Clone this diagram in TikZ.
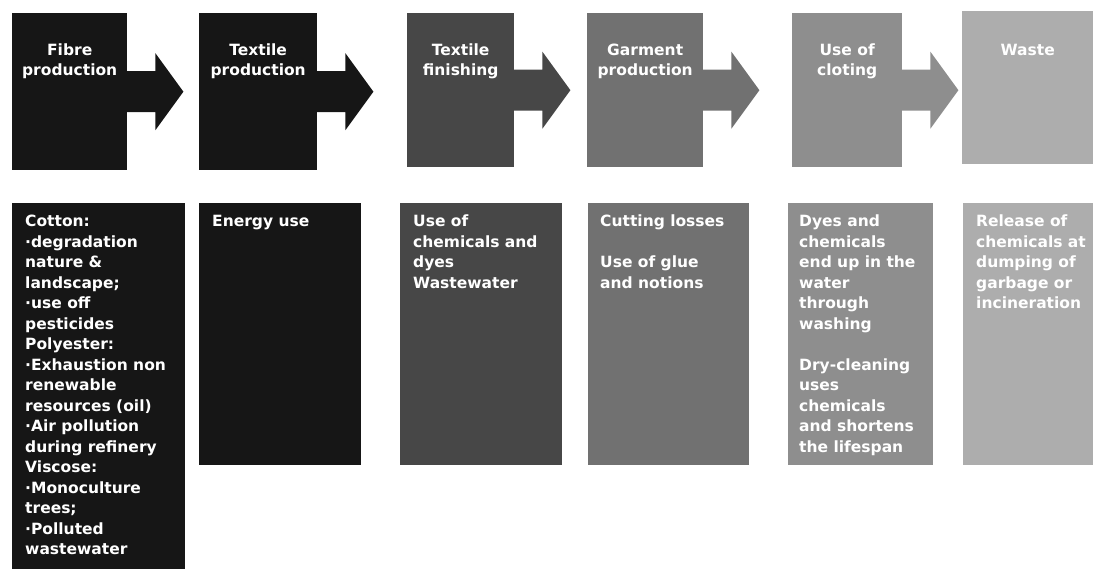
\documentclass[tikz,border=0pt]{standalone}
\usepackage{fontspec}
\setmainfont{DejaVu Sans}
\usetikzlibrary{positioning}
\definecolor{stageA}{HTML}{161616}
\definecolor{stageB}{HTML}{474747}
\definecolor{stageC}{HTML}{717171}
\definecolor{stageD}{HTML}{8E8E8E}
\definecolor{stageE}{HTML}{ADADAD}

\begin{document}
\begin{tikzpicture}[x=1pt,y=-1pt,
  stage/.style={fill=#1,inner sep=0pt,anchor=north west},
  steplbl/.style={text=white,font=\bfseries\fontsize{15.5}{20}\selectfont,align=center,inner sep=0pt},
  implbl/.style={text=white,font=\bfseries\fontsize{15.5}{20.5}\selectfont,align=left,inner sep=0pt}]
  \useasboundingbox (0,0) rectangle (1093,569);

  % life cycle stages
  \node[stage=stageA,minimum width=115pt,minimum height=157pt] (fibre) at (12,13) {};
  \node[stage=stageA,minimum width=118pt,minimum height=157pt] (textile) at (199,13) {};
  \node[stage=stageB,minimum width=107pt,minimum height=154pt] (finish) at (407,13) {};
  \node[stage=stageC,minimum width=116pt,minimum height=154pt] (garment) at (587,13) {};
  \node[stage=stageD,minimum width=110pt,minimum height=154pt] (usage) at (792,13) {};
  \node[stage=stageE,minimum width=131pt,minimum height=153pt] (waste) at (962,11) {};

  % block arrows
  \foreach \s/\c in {fibre/stageA,textile/stageA,finish/stageB,garment/stageC,usage/stageD}
    \fill[\c] ([xshift=-1pt,yshift=20.5pt]\s.east) -- ++(29,0) -- ++(0,-18) -- ++(28,38.5)
      -- ++(-28,38.5) -- ++(0,-18) -- ([xshift=-1pt,yshift=-20.5pt]\s.east) -- cycle;

  \node[steplbl,below=31pt of fibre.north] {Fibre\\production};
  \node[steplbl,below=31pt of textile.north] {Textile\\production};
  \node[steplbl,below=31pt of finish.north] {Textile\\finishing};
  \node[steplbl,below=31pt of garment.north] {Garment\\production};
  \node[steplbl,below=31pt of usage.north] {Use of\\cloting};
  \node[steplbl,below=33pt of waste.north] {Waste};

  % impacts
  \node[stage=stageA,minimum width=173pt,minimum height=366pt] (fibre-imp) at (12,203) {};
  \node[stage=stageA,minimum width=162pt,minimum height=262pt] (textile-imp) at (199,203) {};
  \node[stage=stageB,minimum width=162pt,minimum height=262pt] (finish-imp) at (400,203) {};
  \node[stage=stageC,minimum width=161pt,minimum height=262pt] (garment-imp) at (588,203) {};
  \node[stage=stageD,minimum width=145pt,minimum height=262pt] (usage-imp) at (788,203) {};
  \node[stage=stageE,minimum width=130pt,minimum height=262pt] (waste-imp) at (963,203) {};

  \node[implbl,below right=12pt and 13pt of fibre-imp.north west]
    {Cotton:\\·degradation\\nature \&\\landscape;\\·use off\\pesticides\\Polyester:\\·Exhaustion non\\renewable\\resources (oil)\\·Air pollution\\during refinery\\Viscose:\\·Monoculture\\trees;\\·Polluted\\wastewater};
  \node[implbl,below right=12pt and 13pt of textile-imp.north west] {Energy use};
  \node[implbl,below right=12pt and 13pt of finish-imp.north west]
    {Use of\\chemicals and\\dyes\\Wastewater};
  \node[implbl,below right=12pt and 12pt of garment-imp.north west]
    {Cutting losses\\[20.5pt]Use of glue\\and notions};
  \node[implbl,below right=12pt and 11pt of usage-imp.north west]
    {Dyes and\\chemicals\\end up in the\\water\\through\\washing\\[20.5pt]Dry-cleaning\\uses\\chemicals\\and shortens\\the lifespan};
  \node[implbl,below right=12pt and 13pt of waste-imp.north west]
    {Release of\\chemicals at\\dumping of\\garbage or\\incineration};
\end{tikzpicture}
\end{document}
